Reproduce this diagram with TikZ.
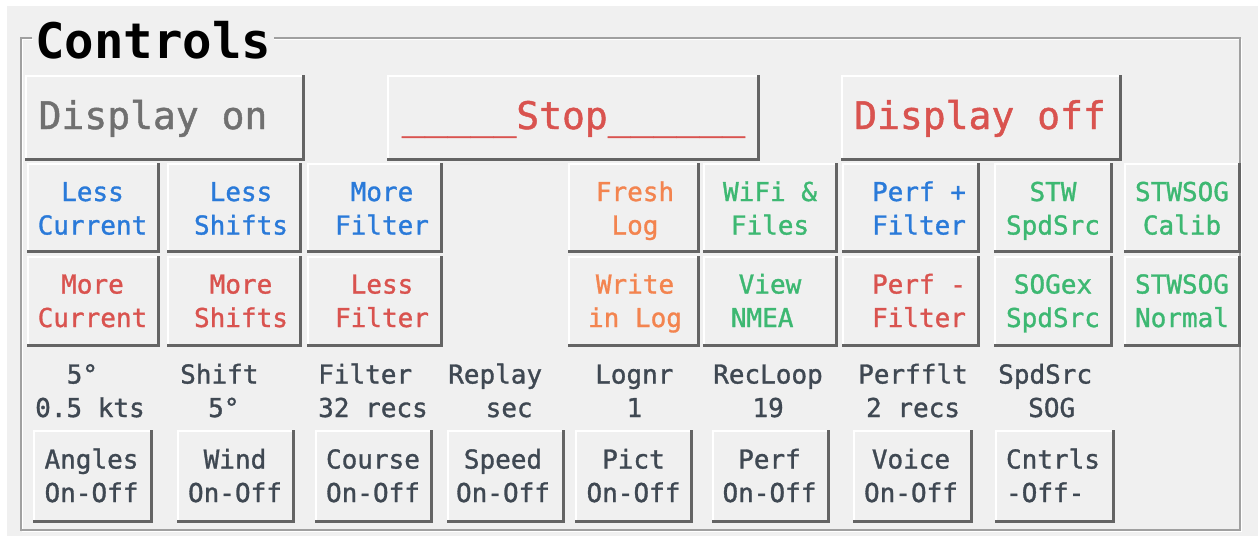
\documentclass[tikz,border=0pt]{standalone}
\usepackage{fontspec}
\newfontfamily\monof{DejaVu Sans Mono}
\newfontfamily\monosb{DejaVu Sans Mono}[FakeBold=1.2]
\definecolor{bg}{HTML}{F0F0F0}
\definecolor{dk}{HTML}{646464}
\definecolor{fr}{HTML}{A0A0A0}
\definecolor{cblue}{HTML}{2A7AD9}
\definecolor{cred}{HTML}{D9534F}
\definecolor{corange}{HTML}{F3844F}
\definecolor{cgreen}{HTML}{3DB872}
\definecolor{cgray}{HTML}{707070}
\definecolor{ctext}{HTML}{3F4852}
\tikzset{
  btnbox/.style={draw=none, fill=bg, inner sep=0pt, outer sep=0pt},
  hl/.style={draw=white, line width=1.5pt},
  sh/.style={draw=dk, line width=3pt},
  small/.style={font=\monosb\fontsize{26}{33.5}\selectfont, align=center, anchor=base, inner sep=0pt},
  lbl/.style={font=\monosb\fontsize{26}{33.5}\selectfont, align=left, anchor=base west, inner sep=0pt, text=ctext},
  big/.style={font=\monosb\fontsize{38}{40}\selectfont, anchor=base, inner sep=0pt},
}
\newcommand\tkbtn[5]{%
  \pgfmathsetmacro\bw{#4-#2}%
  \pgfmathsetmacro\bh{#5-#3}%
  \node[btnbox, minimum width=\bw pt, minimum height=\bh pt] (#1) at ({(#2+#4)/2},{(#3+#5)/2}) {};
  \draw[hl] ([xshift=0.75pt,yshift=3pt]#1.south west) |- ([xshift=-3pt,yshift=-0.75pt]#1.north east);
  \draw[sh] ([xshift=-1.5pt]#1.north east) |- ([yshift=1.5pt]#1.south west);
}
\begin{document}
\begin{tikzpicture}[x=1pt,y=-1pt]
\useasboundingbox (0,0) rectangle (1258,536);
\fill[white] (0,0) rectangle (1258,536);
\fill[bg] (7,6) rectangle (1258,536);
% title and frame
\node[font=\monof\bfseries\fontsize{49}{50}\selectfont, anchor=base west, inner xsep=3pt, inner ysep=0pt] (title) at (32,58) {Controls};
\coordinate (fnw) at (21,38);
\coordinate (fse) at (1240,530);
\draw[white, line width=1pt] (33,39.2) -- (22.2,39.2) -- (22.2,531.2) -- (1241.2,531.2) -- (1241.2,39.2) -- (274,39.2);
\draw[fr, line width=1.2pt] (title.west |- fnw) -- (fnw) -- (fnw |- fse) -- (fse) -- (fse |- fnw) -- (title.east |- fnw);
% top row
\tkbtn{don}{25}{75}{305}{161}
\tkbtn{stop}{387}{75}{760}{161}
\tkbtn{doff}{841}{75}{1122}{161}
\node[big, text=cgray] (don-t) at (153,129) {Display on};
\node[big, text=cred] (stop-t) at (573.5,129) {\_\_\_\_\_Stop\_\_\_\_\_\_};
\node[big, text=cred] (doff-t) at (980,129) {Display off};
% grid row 1
\tkbtn{g11}{27}{163}{160}{253}
\tkbtn{g12}{167}{163}{302}{253}
\tkbtn{g13}{307}{163}{443}{253}
\tkbtn{g15}{568}{163}{700}{253}
\tkbtn{g16}{703}{163}{838}{253}
\tkbtn{g17}{842}{163}{980}{253}
\tkbtn{g18}{994}{163}{1113}{253}
\tkbtn{g19}{1124}{163}{1241}{253}
% grid row 2
\tkbtn{g21}{27}{256}{160}{347}
\tkbtn{g22}{167}{256}{302}{347}
\tkbtn{g23}{307}{256}{443}{347}
\tkbtn{g25}{568}{256}{700}{347}
\tkbtn{g26}{703}{256}{838}{347}
\tkbtn{g27}{842}{256}{980}{347}
\tkbtn{g28}{994}{256}{1113}{347}
\tkbtn{g29}{1124}{256}{1241}{347}
\node[small, text=cblue] (g11-t) at (92.5,234.5) {Less\\Current};
\node[small, text=cblue] (g12-t) at (241,234.5) {Less\\Shifts};
\node[small, text=cblue] (g13-t) at (382,234.5) {More\\Filter};
\node[small, text=corange] (g15-t) at (635,234.5) {Fresh\\Log};
\node[small, text=cgreen] (g16-t) at (770,234.5) {WiFi \&\\Files};
\node[small, text=cblue] (g17-t) at (919,234.5) {Perf +\\Filter};
\node[small, text=cgreen] (g18-t) at (1053,234.5) {STW\\SpdSrc};
\node[small, text=cgreen] (g19-t) at (1182,234.5) {STWSOG\\Calib};
\node[small, text=cred] (g21-t) at (92.5,327) {More\\Current};
\node[small, text=cred] (g22-t) at (241,327) {More\\Shifts};
\node[small, text=cred] (g23-t) at (382,327) {Less\\Filter};
\node[small, text=corange] (g25-t) at (635,327) {Write\\in Log};
\node[small, text=cgreen] (g26-t) at (770,327) {View\\NMEA\phantom{X}};
\node[small, text=cred] (g27-t) at (919,327) {Perf -\\Filter};
\node[small, text=cgreen] (g28-t) at (1053,327) {SOGex\\SpdSrc};
\node[small, text=cgreen] (g29-t) at (1182,327) {STWSOG\\Normal};
% labels
\node[lbl] (lb1) at (35,417) {\hspace*{31.5pt}5°\\0.5 kts};
\node[lbl] (lb2) at (180,417) {Shift\\\hspace*{28pt}5°};
\node[lbl] (lb3) at (318,417) {Filter\\32 recs};
\node[lbl] (lb4) at (448,417) {Replay\\\hspace*{37.5pt}sec};
\node[lbl] (lb5) at (595,417) {Lognr\\\hspace*{31.4pt}1};
\node[lbl] (lb6) at (713,417) {RecLoop\\\hspace*{39.3pt}19};
\node[lbl] (lb7) at (858,417) {Perfflt\\\hspace*{7.9pt}2 recs};
\node[lbl] (lb8) at (998,417) {SpdSrc\\\hspace*{30pt}SOG};
% bottom buttons
\tkbtn{b1}{33}{430}{153}{523}
\tkbtn{b2}{177}{430}{295}{523}
\tkbtn{b3}{315}{430}{433}{523}
\tkbtn{b4}{447}{430}{565}{523}
\tkbtn{b5}{575}{430}{693}{523}
\tkbtn{b6}{712}{430}{830}{523}
\tkbtn{b7}{853}{430}{973}{523}
\tkbtn{b8}{995}{430}{1115}{523}
\node[small, text=ctext] (b1-t) at (91.5,502) {Angles\\On-Off};
\node[small, text=ctext] (b2-t) at (235,502) {Wind\\On-Off};
\node[small, text=ctext] (b3-t) at (373,502) {Course\\On-Off};
\node[small, text=ctext] (b4-t) at (503,502) {Speed\\On-Off};
\node[small, text=ctext] (b5-t) at (633.5,502) {Pict\\On-Off};
\node[small, text=ctext] (b6-t) at (769.5,502) {Perf\\On-Off};
\node[small, text=ctext] (b7-t) at (911,502) {Voice\\On-Off};
\node[small, text=ctext] (b8-t) at (1053,502) {Cntrls\\-Off-\phantom{X}};
\end{tikzpicture}
\end{document}
